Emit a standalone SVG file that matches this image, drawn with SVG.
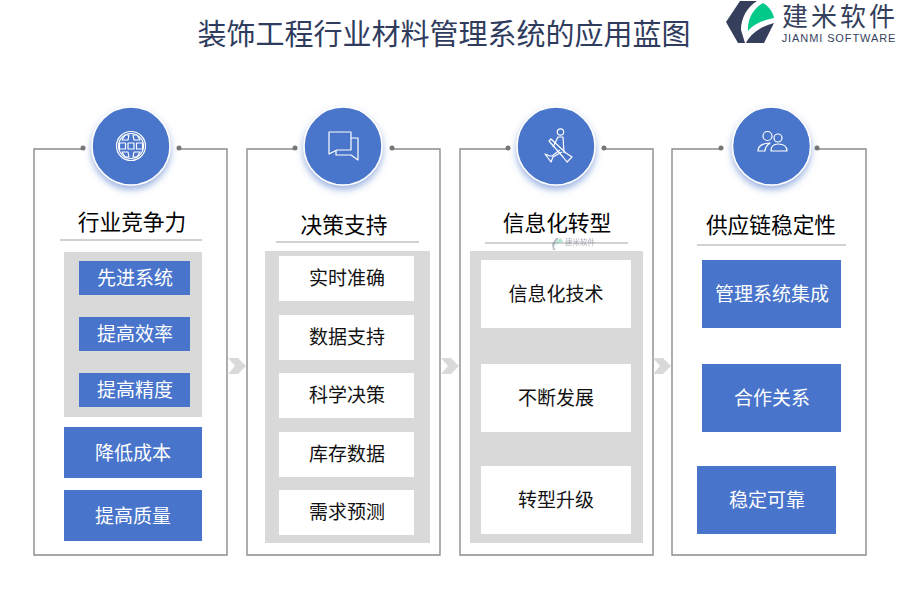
<svg xmlns="http://www.w3.org/2000/svg" width="900" height="600" viewBox="0 0 900 600">
<style>
text{font-family:"Liberation Serif","Noto Sans CJK SC",serif;text-anchor:middle}
.title{font-size:29px;fill:#2f3c5e}
.head{font-size:21.700px;fill:#000}
.w{font-size:19px;fill:#fff}
.b{font-size:19px;fill:#111}
.panel{fill:none;stroke:#8c8c8c;stroke-width:1.4}
.rule{stroke:#a6a6a6;stroke-width:1.2}
.blue{fill:#4874cb}
.grey{fill:#d9d9d9}
.white{fill:#fff}
.dot{fill:#767676}
.circ{fill:#4874cb;stroke:#fff;stroke-width:1.5;filter:url(#sh)}
.ic{fill:none;stroke:#fff;stroke-width:1.2;stroke-linejoin:round}
.chev{fill:#d9d9d9}
</style>
<defs>
<filter id="sh" x="-30%" y="-30%" width="160%" height="170%"><feDropShadow dx="0" dy="4" stdDeviation="3.500" flood-color="#4874cb" flood-opacity=".55"/></filter>
</defs>
<rect width="900" height="600" fill="#fff"/>
<text class="title" x="444" y="45">装饰工程行业材料管理系统的应用蓝图</text>
<g id="logo">
<path d="M740 1H757C747 7 741 18 741 30L745 43H738L726 22Z" fill="#353f5c"/>
<path d="M748 31C747 18 755 7 763 3C770 7 773 13 774 18C763 20 754 24 748 31Z" fill="#00c98a"/>
<path d="M746 43C751 33 762 26 774 23L764 43Z" fill="#353f5c"/>
<text x="840" y="26" style="font-family:'Liberation Sans','Noto Sans CJK SC',sans-serif;font-size:26px;letter-spacing:3px" fill="#353f5c">建米软件</text>
<text x="839" y="42" style="font-family:'Liberation Sans',sans-serif;font-size:11px;letter-spacing:.9px" fill="#353f5c">JIANMI SOFTWARE</text>
</g>
<g id="connectors">
<path class="panel" d="M83 149H34V555H227V149H179"/>
<path class="panel" d="M295 149H247V555H440V149H392"/>
<path class="panel" d="M508 149H460V555H653V149H604"/>
<path class="panel" d="M721 149H672V555H866V149H817"/>
<circle class="dot" cx="83" cy="148" r="2.500"/><circle class="dot" cx="179" cy="148" r="2.500"/>
<circle class="dot" cx="295" cy="148" r="2.500"/><circle class="dot" cx="392" cy="148" r="2.500"/>
<circle class="dot" cx="508" cy="148" r="2.500"/><circle class="dot" cx="604" cy="148" r="2.500"/>
<circle class="dot" cx="721" cy="148" r="2.500"/><circle class="dot" cx="817" cy="148" r="2.500"/>
<path id="c1" class="chev" d="M228 358H238L246 366L238 374H228L235 366Z"/>
<path id="c2" class="chev" d="M441 358H451L459 366L451 374H441L448 366Z"/>
<path id="c3" class="chev" d="M653 358H663L671 366L663 374H653L660 366Z"/>
</g>
<g id="col1">
<circle class="circ" cx="131" cy="146" r="39"/>
<g class="ic"><circle cx="131" cy="146" r="14.500"/><circle cx="131" cy="146" r="12.500"/><rect x="119.500" y="143" width="6" height="6"/><rect x="128" y="143" width="6" height="6"/><rect x="136.500" y="143" width="6" height="6"/><path d="M122 140L125 135H129L128 140ZM134 140L133 135H137L140 140ZM122 152L125 157H129L128 152ZM134 152L133 157H137L140 152Z"/></g>
<text class="head" x="132" y="230">行业竞争力</text>
<line class="rule" x1="60" y1="240" x2="202" y2="240"/>
<rect class="grey" x="64" y="252" width="138" height="165"/>
<rect class="blue" x="79" y="261" width="111" height="34"/><text class="w" x="135" y="285">先进系统</text>
<rect class="blue" x="79" y="317" width="111" height="34"/><text class="w" x="135" y="341">提高效率</text>
<rect class="blue" x="79" y="373" width="111" height="34"/><text class="w" x="135" y="397">提高精度</text>
<rect class="blue" x="64" y="427" width="138" height="51"/><text class="w" x="133" y="460">降低成本</text>
<rect class="blue" x="64" y="490" width="138" height="51"/><text class="w" x="133" y="523">提高质量</text>
</g>
<g id="col2">
<circle class="circ" cx="343" cy="146" r="39"/>
<g class="ic"><path d="M329 132H351V150H337L329 154Z"/><path d="M351 138H358V160L351 155H336V150"/></g>
<text class="head" x="344" y="233">决策支持</text>
<line class="rule" x1="276" y1="242" x2="419" y2="242"/>
<rect class="grey" x="265" y="251" width="165" height="292"/>
<rect class="white" x="279" y="256" width="135" height="45"/><text class="b" x="347" y="285">实时准确</text>
<rect class="white" x="279" y="315" width="135" height="45"/><text class="b" x="347" y="344">数据支持</text>
<rect class="white" x="279" y="373" width="135" height="45"/><text class="b" x="347" y="402">科学决策</text>
<rect class="white" x="279" y="432" width="135" height="45"/><text class="b" x="347" y="461">库存数据</text>
<rect class="white" x="279" y="490" width="135" height="45"/><text class="b" x="347" y="519">需求预测</text>
</g>
<g id="col3">
<circle class="circ" cx="556" cy="146" r="39"/>
<g class="ic"><circle cx="560.500" cy="132" r="3.200"/><path d="M553 147L558 137H563L564 153"/><path d="M549 141L551 139L566 153L572 157L567 162L563 157Z"/><path d="M560 150L552 156L550 156L545 154L551 162L553 157L562 152"/></g>
<text class="head" x="557" y="231">信息化转型</text>
<line class="rule" x1="485" y1="243" x2="628" y2="243"/>
<rect class="grey" x="470" y="251" width="173" height="292"/>
<rect class="white" x="481" y="260" width="150" height="68"/><text class="b" x="556" y="301">信息化技术</text>
<rect class="white" x="481" y="364" width="150" height="68"/><text class="b" x="556" y="405">不断发展</text>
<rect class="white" x="481" y="466" width="150" height="68"/><text class="b" x="556" y="507">转型升级</text>
<g id="watermark" opacity=".55"><path d="M556 238H559C556 241 554 245 554 248L556 250H553L552 244Z" fill="#7d8496"/><path d="M556 245C556 241 559 239 561 238L563 242C560 242 558 243 556 245Z" fill="#79d3b6"/><text x="580" y="245" style="font-family:'Liberation Sans','Noto Sans CJK SC',sans-serif;font-size:7.500px" fill="#6e7488">建米软件</text></g>
</g>
<g id="col4">
<circle class="circ" cx="771.500" cy="146" r="39"/>
<g class="ic"><circle cx="767.500" cy="136" r="4.500"/><circle cx="778" cy="138" r="4"/><path d="M758 151C758 146 763 143 770 143C767 145 765 148 765 151Z"/><path d="M771 151C771 146 774 144 778 144C783 144 787 146 787 151Z"/></g>
<text class="head" x="771" y="233">供应链稳定性</text>
<line class="rule" x1="697" y1="245" x2="846" y2="245"/>
<rect class="blue" x="702" y="260" width="139" height="68"/><text class="w" x="772" y="301">管理系统集成</text>
<rect class="blue" x="702" y="364" width="139" height="68"/><text class="w" x="772" y="405">合作关系</text>
<rect class="blue" x="697" y="466" width="139" height="68"/><text class="w" x="767" y="507">稳定可靠</text>
</g>
</svg>
